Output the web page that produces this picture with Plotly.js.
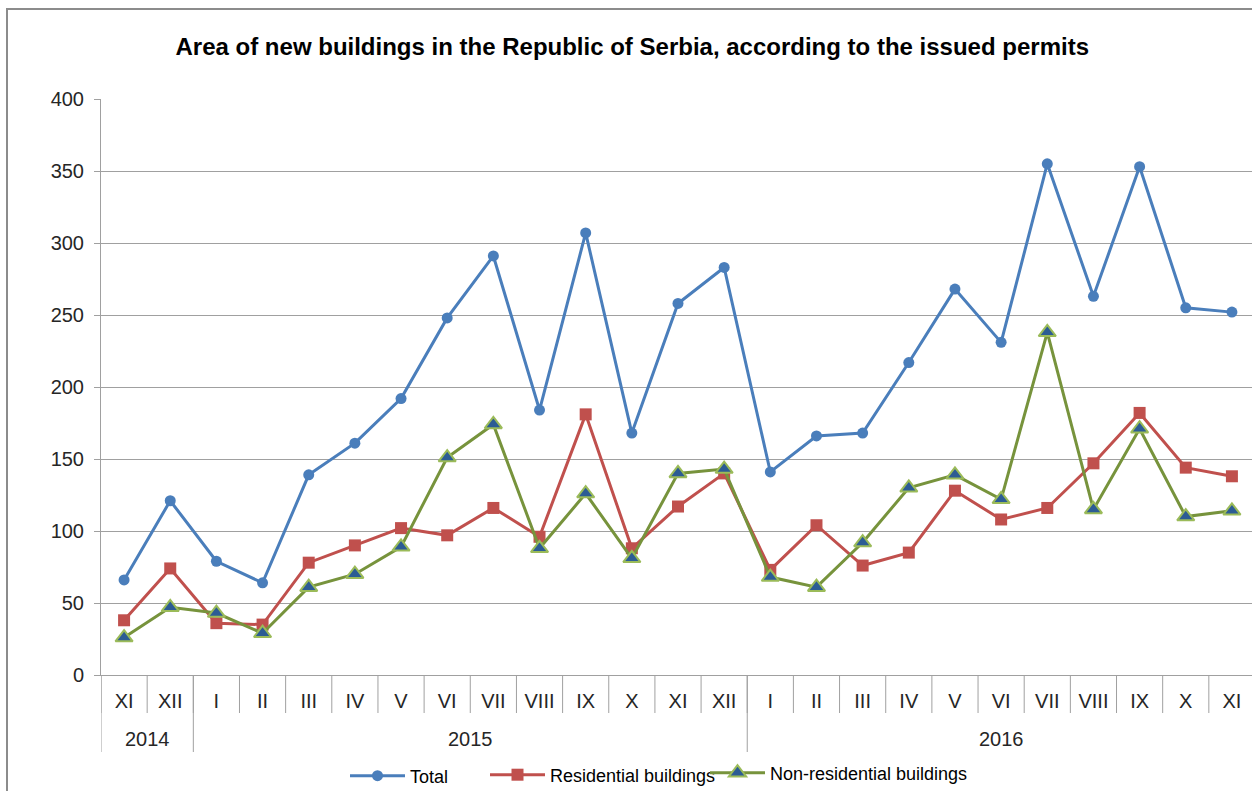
<!DOCTYPE html>
<html><head><meta charset="utf-8">
<script src="https://cdn.plot.ly/plotly-3.0.1.min.js"></script>
<style>
html,body{margin:0;padding:0;background:#fff;overflow:hidden}
#chart{position:absolute;left:0;top:0;width:1252px;height:791px}
#frame{position:absolute;left:6px;top:8px;width:1400px;height:1000px;border:2px solid #8c8c8c;pointer-events:none}
</style></head>
<body>
<div id="chart"></div>
<div id="frame"></div>
<script>
const months = ["XI","XII","I","II","III","IV","V","VI","VII","VIII","IX","X","XI","XII","I","II","III","IV","V","VI","VII","VIII","IX","X","XI"];
const years = ["2014","2014","2015","2015","2015","2015","2015","2015","2015","2015","2015","2015","2015","2015","2016","2016","2016","2016","2016","2016","2016","2016","2016","2016","2016"];
const total = [66,121,79,64,139,161,192,248,291,184,307,168,258,283,141,166,168,217,268,231,355,263,353,255,252];
const residential = [38,74,36,35,78,90,102,97,116,96,181,88,117,140,73,104,76,85,128,108,116,147,182,144,138];
const nonResidential = [26,47,43,29,61,70,89,151,174,88,126,81,140,143,68,61,92,130,139,122,238,115,171,110,114];

const FONT = "Liberation Sans, Arial, sans-serif";
const idx = months.map((m, i) => i);
const xMin = -0.5, xMax = months.length - 0.5 - 0.065; // right end of the plot is cropped by the frame

// year groups derived from the years array
const groups = [];
years.forEach((y, i) => {
  const g = groups[groups.length - 1];
  if (g && g.year === y) g.end = i; else groups.push({year: y, start: i, end: i});
});

const H = 576; // plot height in px (used for paper fractions)
const shapes = [];
for (let i = 0; i <= months.length; i++) {
  const b = i - 0.5;
  if (b > xMax) continue;
  shapes.push({type: "line", xref: "x", yref: "paper", x0: b, x1: b, y0: 0, y1: -38 / H,
               line: {color: "#a0a0a0", width: 1}});
}
const divs = [groups[0].start - 0.5].concat(groups.map(g => g.end + 0.5)).filter(d => d <= xMax);
divs.forEach(d => shapes.push({type: "line", xref: "x", yref: "paper", x0: d, x1: d, y0: 0, y1: -77 / H,
                               line: {color: "#a0a0a0", width: 1}}));
const annotations = groups.map(g => ({xref: "x", yref: "paper", x: (g.start + g.end) / 2, y: -64 / H,
  yanchor: "middle", xanchor: "center", showarrow: false, text: g.year,
  font: {family: FONT, size: 20, color: "#262626"}}));

const traces = [
  {x: idx, y: total, name: "Total", type: "scatter", mode: "lines+markers", legend: "legend",
   line: {color: "#4a7ebb", width: 3}, marker: {symbol: "circle", size: 11, color: "#4a7ebb"}},
  {x: idx, y: residential, name: "Residential buildings", type: "scatter", mode: "lines+markers", legend: "legend2",
   line: {color: "#c0504d", width: 3}, marker: {symbol: "square", size: 12, color: "#c0504d"}},
  {x: idx, y: nonResidential, name: "Non-residential buildings", type: "scatter", mode: "lines+markers", legend: "legend3",
   line: {color: "#77933c", width: 3}, marker: {symbol: "triangle-up", size: 15, color: "#2c5c94", line: {color: "#9bbb59", width: 2}}}
];

const legBase = {orientation: "h", xref: "container", yref: "container", xanchor: "left", yanchor: "middle",
  font: {family: FONT, size: 18, color: "#000000"}, bgcolor: "rgba(0,0,0,0)", itemwidth: 55, tracegroupgap: 0};

const layout = {
  width: 1252, height: 791,
  margin: {l: 101, r: 0, t: 99, b: 116},
  paper_bgcolor: "#ffffff", plot_bgcolor: "#ffffff",
  font: {family: FONT, size: 20, color: "#262626"},
  title: {text: "<b>Area of new buildings in the Republic of Serbia, according to the issued permits</b>",
          font: {family: FONT, size: 24, color: "#000000"},
          xref: "container", x: 0.505, xanchor: "center", yref: "container", y: 0.9406, yanchor: "middle"},
  showlegend: true,
  legend: Object.assign({}, legBase, {x: 345 / 1252, y: 1 - 776 / 791}),
  legend2: Object.assign({}, legBase, {x: 485 / 1252, y: 1 - 775 / 791}),
  legend3: Object.assign({}, legBase, {x: 705 / 1252, y: 1 - 773 / 791}),
  xaxis: {range: [xMin, xMax], tickmode: "array", tickvals: idx, ticktext: months,
          showgrid: false, zeroline: false, showline: true, linecolor: "#a0a0a0", linewidth: 1,
          ticks: "", ticklabelstandoff: 8,
          tickfont: {family: FONT, size: 20, color: "#262626"}},
  yaxis: {range: [0, 400], dtick: 50, showgrid: true, gridcolor: "#a0a0a0", gridwidth: 1,
          zeroline: false, showline: true, linecolor: "#a0a0a0", linewidth: 1,
          ticks: "outside", ticklen: 6, tickcolor: "#a0a0a0", ticklabelstandoff: 6,
          tickfont: {family: FONT, size: 20, color: "#262626"}},
  shapes: shapes,
  annotations: annotations
};

Plotly.newPlot("chart", traces, layout, {displayModeBar: false, staticPlot: true});
</script>
</body></html>
